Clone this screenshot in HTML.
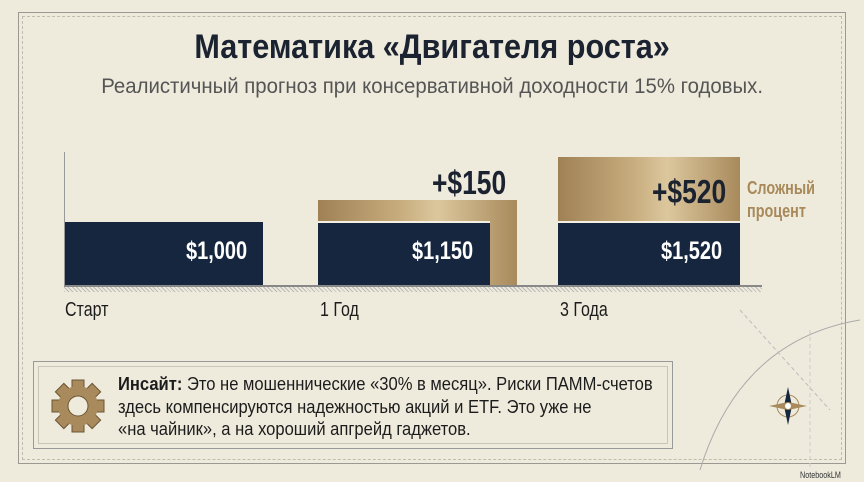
<!DOCTYPE html>
<html><head><meta charset="utf-8"><style>
*{margin:0;padding:0;box-sizing:border-box}
body{width:864px;height:482px;background:#eeebdd;position:relative;overflow:hidden;font-family:"Liberation Sans",sans-serif;color:#1c1c1c}
.abs{position:absolute}
.n{display:inline-block;transform:scaleX(.8);transform-origin:left center;white-space:nowrap}
.c{transform-origin:center center}
.navy{background:#15263e}
.gold{background:linear-gradient(90deg,#9f8155 0%,#c6ab7c 40%,#dcc79d 60%,#a88a5c 100%)}
.val{color:#fff;font-weight:bold;font-size:25px}
</style></head><body>
<div class="abs" style="left:18px;top:12px;width:828px;height:452px;border:1.5px solid #9a9a92"></div>
<div class="abs" style="left:22px;top:16px;width:820px;height:444px;border:1px dashed #c0bdb0"></div>
<div class="abs" style="left:0;top:28px;width:864px;text-align:center;font-size:34px;font-weight:bold;color:#1b2230"><span class="n c" style="transform:scaleX(.9)">Математика «Двигателя роста»</span></div>
<div class="abs" style="left:0;top:75px;width:864px;text-align:center;font-size:21px;color:#555"><span class="n c" style="transform:scaleX(.97)">Реалистичный прогноз при консервативной доходности 15% годовых.</span></div>
<!-- axis -->
<div class="abs" style="left:64px;top:152px;width:1px;height:135px;background:#999"></div>
<div class="abs" style="left:64px;top:285px;width:698px;height:2px;background:#888"></div>
<div class="abs" style="left:64px;top:287px;width:698px;height:5px;background:repeating-linear-gradient(45deg,#bbb 0 1px,transparent 1px 3px)"></div>
<!-- bars -->
<div class="abs navy" style="left:65px;top:222px;width:198px;height:63px"></div>
<div class="abs val" style="left:186px;top:237px"><span class="n">$1,000</span></div>
<div class="abs gold" style="left:318px;top:200px;width:199px;height:85px"></div>
<div class="abs" style="left:318px;top:221px;width:172px;height:2px;background:#f3efe2"></div>
<div class="abs navy" style="left:318px;top:223px;width:172px;height:62px"></div>
<div class="abs val" style="left:412px;top:237px"><span class="n">$1,150</span></div>
<div class="abs" style="left:432px;top:164px;font-size:33px;font-weight:bold;color:#1b2230"><span class="n">+$150</span></div>
<div class="abs gold" style="left:558px;top:157px;width:182px;height:65px"></div>
<div class="abs" style="left:558px;top:221px;width:182px;height:2px;background:#f3efe2"></div>
<div class="abs navy" style="left:558px;top:223px;width:182px;height:62px"></div>
<div class="abs val" style="left:661px;top:237px"><span class="n">$1,520</span></div>
<div class="abs" style="left:652px;top:173px;font-size:33px;font-weight:bold;color:#1b2230"><span class="n">+$520</span></div>
<div class="abs" style="left:747px;top:177px;font-size:18px;font-weight:bold;color:#a8895a;line-height:23px"><span class="n">Сложный<br>процент</span></div>
<div class="abs" style="left:65px;top:299px;font-size:20px"><span class="n">Старт</span></div>
<div class="abs" style="left:320px;top:299px;font-size:20px"><span class="n">1 Год</span></div>
<div class="abs" style="left:560px;top:299px;font-size:20px"><span class="n">3 Года</span></div>
<!-- decorative arcs -->
<svg class="abs" style="left:660px;top:300px" width="200" height="170"><path d="M40 170 Q80 40 200 20" fill="none" stroke="#aaa" stroke-width="1"/><path d="M80 10 L170 110" stroke="#bbb" stroke-dasharray="4 3" fill="none"/><line x1="150" y1="30" x2="150" y2="170" stroke="#ccc" stroke-dasharray="4 3"/></svg>
<!-- insight -->
<div class="abs" style="left:33px;top:361px;width:640px;height:88px;border:1.5px solid #999"></div>
<div class="abs" style="left:38px;top:366px;width:630px;height:78px;border:1px solid #c8c5b8"></div>
<svg class="abs" style="left:50px;top:378px" width="56" height="56" viewBox="-28 -28 56 56"><g fill="#a88a5c" stroke="#6b5533" stroke-width="1"><rect x="-6" y="-26" width="12" height="52"/><rect x="-6" y="-26" width="12" height="52" transform="rotate(45)"/><rect x="-6" y="-26" width="12" height="52" transform="rotate(90)"/><rect x="-6" y="-26" width="12" height="52" transform="rotate(135)"/><circle r="20" stroke="none"/></g><circle r="10" fill="#eeebdd" stroke="#6b5533"/></svg>
<div class="abs" style="left:118px;top:373px;font-size:18px;line-height:22.5px;color:#1c1c1c"><span class="n" style="transform:scaleX(.92)"><b>Инсайт:</b> Это не мошеннические «30% в месяц». Риски ПАММ-счетов<br>здесь компенсируются надежностью акций и ETF. Это уже не<br>«на чайник», а на хороший апгрейд гаджетов.</span></div>
<svg class="abs" style="left:768px;top:386px" width="40" height="40" viewBox="-20 -20 40 40"><circle r="11" fill="none" stroke="#a88a5c"/><path d="M0-19 L4 0 L0 19 L-4 0z" fill="#15263e"/><path d="M-19 0 L0-4 L19 0 L0 4z" fill="#a88a5c"/><circle r="3" fill="#fff"/></svg>
<div class="abs" style="left:800px;top:470px;font-size:9px;color:#333"><span class="n">NotebookLM</span></div>
</body></html>
